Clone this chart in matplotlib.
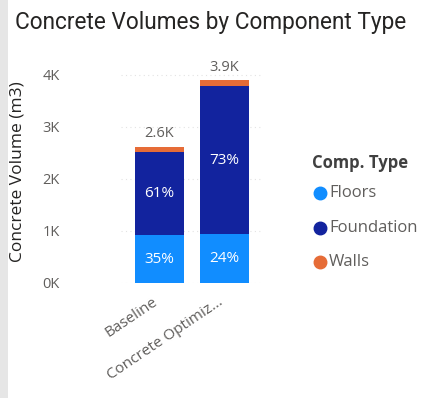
import matplotlib.pyplot as plt
import matplotlib.transforms as mtransforms
import numpy as np
from matplotlib.patches import Rectangle

# Данные (оценка по картинке)
scenarios = ["Baseline", "Concrete Optimiz..."]
comp_types = ["Floors", "Foundation", "Walls"]
floors = [920, 940]
foundation = [1600, 2840]
walls = [100, 120]
pct_floors = ["35%", "24%"]
pct_foundation = ["61%", "73%"]
y_ticks = [0, 1000, 2000, 3000, 4000]
y_tick_labels = ["0K", "1K", "2K", "3K", "4K"]

COLORS = ["#118DFF", "#12239E", "#E66C37"]
TEXT_DARK = "#252423"
TEXT_GRAY = "#605E5C"

plt.rcParams["font.family"] = ["Open Sans", "DejaVu Sans"]

fig = plt.figure(figsize=(4.31, 3.98), dpi=100)
fig.patch.set_facecolor("white")

# серая полоска слева (край скриншота)
fig.patches.append(Rectangle((0, 0), 8 / 431, 1, transform=fig.transFigure,
                             facecolor="#e6e6e6", edgecolor="none", zorder=0))

ax = fig.add_axes([120.5 / 431, 115 / 398, 143 / 431, 223.6 / 398])

x = np.arange(len(scenarios))
width = 0.754
series = [floors, foundation, walls]
bottom = np.zeros(len(scenarios))
for vals, color, name in zip(series, COLORS, comp_types):
    ax.bar(x, vals, width, bottom=bottom, color=color, label=name, zorder=3)
    bottom = bottom + np.array(vals)
totals = bottom

# подписи процентов
for i in range(len(scenarios)):
    ax.text(x[i], floors[i] / 2, pct_floors[i], ha="center", va="center",
            color="white", fontsize=11, zorder=4)
    ax.text(x[i], floors[i] + foundation[i] / 2, pct_foundation[i],
            ha="center", va="center", color="white", fontsize=11, zorder=4)
    ax.annotate(f"{totals[i] / 1000:.1f}K", (x[i], totals[i]),
                xytext=(0, 4), textcoords="offset points",
                ha="center", va="bottom", color=TEXT_GRAY, fontsize=10.5)

ax.set_xlim(-0.6, 1.6)
ax.set_ylim(0, 4300)
ax.set_yticks(y_ticks)
ax.set_yticklabels(y_tick_labels)
ax.set_xticks(x)
ax.set_xticklabels(scenarios, rotation=34, ha="right", va="top",
                   rotation_mode="anchor")
ax.tick_params(axis="y", length=0, pad=56, labelsize=10.5, labelcolor=TEXT_GRAY)
ax.tick_params(axis="x", length=0, pad=8, labelsize=11, labelcolor=TEXT_GRAY)
for lbl in ax.get_yticklabels():
    lbl.set_horizontalalignment("left")
shift = mtransforms.ScaledTranslation(-7 / 100, 0, fig.dpi_scale_trans)
for lbl in ax.get_xticklabels():
    lbl.set_transform(lbl.get_transform() + shift)

ax.grid(axis="y", linestyle=(0, (1, 3)), color="#e3e3e3", linewidth=0.8, zorder=0)
for s in ax.spines.values():
    s.set_visible(False)

ax.set_ylabel("Concrete Volume (m3)", fontsize=12.5, color=TEXT_DARK)
ax.yaxis.set_label_coords(-95 / 143, 0.5)

fig.text(15 / 431, 1 - 22 / 398, "Concrete Volumes by Component Type",
         fontsize=16.3, color=TEXT_DARK, va="center",
         ha="left", family=["Roboto", "DejaVu Sans"])

# легенда
fig.text(312 / 431, 1 - 163 / 398, "Comp. Type", fontsize=12,
         fontweight="bold", color="#404040", va="center", ha="left")
for name, color, yy in zip(comp_types, COLORS, [193, 228, 262]):
    fig.lines.append(plt.Line2D([320 / 431], [1 - yy / 398], marker="o",
                                markersize=9, color=color, linestyle="none",
                                transform=fig.transFigure))
    fig.text(329 / 431, 1 - yy / 398, name, fontsize=12, color=TEXT_GRAY,
             va="center", ha="left")

fig.savefig("out.png", dpi=100)
